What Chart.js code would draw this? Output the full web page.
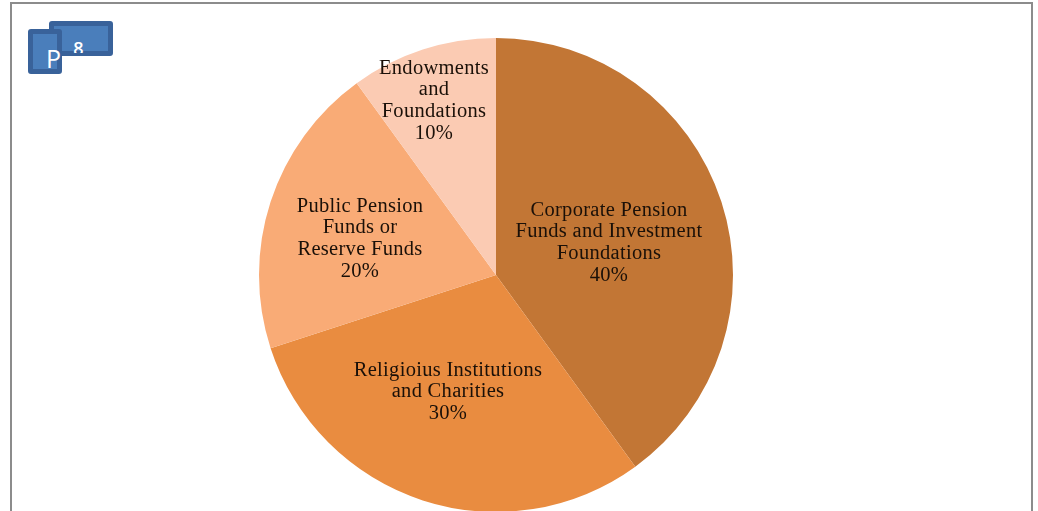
<!DOCTYPE html>
<html><head><meta charset="utf-8">
<style>
html,body{margin:0;padding:0;background:#fff;width:1038px;height:511px;overflow:hidden}
#wrap{position:absolute;left:0;top:0;width:1038px;height:600px}
#frame{position:absolute;left:10px;top:2px;width:1019px;height:600px;border:2px solid #8c8c8c;box-sizing:content-box}
.box{position:absolute;background:#4a7ebb;border:5px solid #39629a;border-radius:3px;box-sizing:border-box}
.g{position:absolute;color:#fff;font-family:"Open Sans",sans-serif;line-height:1}
</style></head><body>
<div id="frame"></div>
<div class="box" style="left:49px;top:21px;width:64px;height:35px"></div>
<div class="g" style="left:72px;top:39px;width:13px;height:14px;overflow:hidden;font-size:18px;font-weight:600;text-align:center">8</div>
<div class="box" style="left:28px;top:29px;width:34px;height:45px"></div>
<div class="g" style="left:46px;top:46px;font-size:25px">P</div>
<div id="wrap"><canvas id="c" width="1038" height="600" style="display:block"></canvas></div>
<script src="https://cdn.jsdelivr.net/npm/chart.js@4/dist/chart.umd.min.js"></script>
<script>
const categories = ["Corporate Pension Funds and Investment Foundations","Religioius Institutions and Charities","Public Pension Funds or Reserve Funds","Endowments and Foundations"];
const values = [40,30,20,10];
const colors = ["#C27635","#E98C40","#F9AB76","#FBCBB3"];
const labelLines = [
 ["Corporate Pension","Funds and Investment","Foundations","40%"],
 ["Religioius Institutions","and Charities","30%"],
 ["Public Pension","Funds or","Reserve Funds","20%"],
 ["Endowments","and","Foundations","10%"]
];
const labelAnchors = [[113,-32],[-48,117],[-136,-36],[-62,-174]];
const sliceLabels = {
 id:"sliceLabels",
 afterDatasetsDraw(chart){
  const arc = chart.getDatasetMeta(0).data[0];
  const ctx = chart.ctx;
  ctx.save();
  ctx.font = '20.5px "Liberation Serif"';
  ctx.letterSpacing = "0.3px";
  ctx.fillStyle = "#1a1008";
  ctx.textAlign = "center";
  ctx.textBaseline = "middle";
  const lh = 21.8;
  labelLines.forEach((lines,i)=>{
    const cx = arc.x + labelAnchors[i][0], cy = arc.y + labelAnchors[i][1];
    lines.forEach((t,j)=>ctx.fillText(t,cx,cy+(j-(lines.length-1)/2)*lh));
  });
  ctx.restore();
 }
};
new Chart(document.getElementById("c"),{
 type:"pie",
 data:{labels:categories,datasets:[{data:values,backgroundColor:colors,borderWidth:0}]},
 options:{responsive:false,animation:false,
  layout:{padding:{left:259,right:305,top:38,bottom:88}},
  events:[],
  plugins:{legend:{display:false},tooltip:{enabled:false}}},
 plugins:[sliceLabels]
});
</script>
</body></html>
